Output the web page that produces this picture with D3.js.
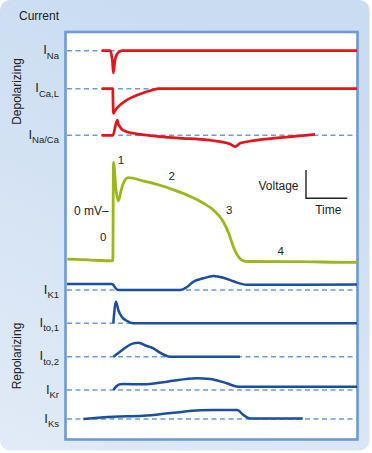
<!DOCTYPE html>
<html>
<head>
<meta charset="utf-8">
<script src="https://cdn.jsdelivr.net/npm/d3@7"></script>
<style>
  body { margin: 0; background: #fff; }
  svg { display: block; font-family: "Liberation Sans", Arial, sans-serif; }
</style>
</head>
<body>
<svg width="372" height="453"></svg>
<script>
// time in ms, 0 = upstroke of the action potential
var timeDomain = [-110, 570];

// action potential, [ms, mV]
var apTrace = [[-109.3, -82.4], [-60, -84], [-2.5, -85.5], [-1, 82.6], [4.9, 35.3], [10.3, 16.6],
  [16, 32], [22, 46.8], [33.8, 56.3], [68.9, 50.7], [108.1, 43.4], [143.3, 34.8], [178.4, 24.6],
  [208.9, 13.1], [234.7, 0.3], [256.5, -18.8], [269.9, -39.8], [279.3, -60.2], [288.6, -74.8],
  [299.2, -84.1], [312.1, -86.7], [428.6, -87], [565.3, -88.1], [570, -88.1]];

// phase numbers, placed at [ms, mV]
var phaseLabels = [["0", -24.9, -44.4], ["1", 16.6, 86.5], ["2", 135.5, 59.7], ["3", 270.6, 1.2], ["4", 391.1, -68.3]];

// currents, [ms, relative amplitude] (outward up, inward down)
var currentNames = ["Na", "Ca,L", "Na/Ca", "K1", "to,1", "to,2", "Kr", "Ks"];
var currentKind = ["dep", "dep", "dep", "rep", "rep", "rep", "rep", "rep"];

var iNa = [[-28.6, 0], [-9.1, 0], [-5.6, -0.43], [-3.3, -1.13], [-1.4, -2.23], [2.6, -0.93],
  [7.3, -0.33], [12, -0.13], [19, 0], [570, 0]];
var iCaL = [[-28.6, 0], [-2.8, 0], [-1.4, -2.46], [2.6, -2.2], [10.3, -1.8], [30, -1.13],
  [61.2, -0.53], [92.4, -0.1], [105, 0], [570, 0]];
var iNaCa = [[-28.6, 0], [-2.8, 0], [8, 1.53], [10.3, 1.1], [14.3, 0.86], [18.3, 0.6], [30, 0.36],
  [45, 0.2], [61.2, 0.1], [108, -0.14], [160, -0.3], [201.9, -0.4], [248.8, -0.64], [272.2, -0.87],
  [284, -1.14], [295.7, -0.8], [326.9, -0.54], [397.2, -0.2], [471.5, 0.1]];
var iK1 = [[-110, 0.6], [-5.2, 0.6], [-1.4, 0.5], [3.8, 0.2], [10.3, 0], [155, 0], [170.7, 0.27],
  [186.2, 0.83], [209.6, 1.17], [233.1, 1.4], [256.5, 1.23], [280, 0.87], [311.4, 0.53],
  [436.4, 0.53], [570, 0.55]];
var iTo1 = [[-1.4, 0], [4.9, 2.16], [10.3, 1.33], [18.3, 0.66], [30, 0.26], [45.5, 0], [570, 0]];
var iTo2 = [[-1.4, 0], [14.3, 0.5], [30, 1], [45.5, 1.33], [57.2, 1.4], [76.9, 1.07], [92.4, 0.84],
  [108.1, 0.4], [131.5, 0], [295.7, 0]];
var iKr = [[-1.4, 0], [6.6, 0.4], [14.3, 0.57], [22, 0.6], [68.9, 0.57], [123.8, 0.83],
  [194.2, 1.17], [225.3, 1.1], [264.5, 0.67], [291.7, 0.33], [570, 0.33]];
var iKs = [[-71.8, 0], [-1.4, 0.23], [68.9, 0.33], [139.3, 0.63], [201.9, 0.87], [233.1, 0.9],
  [289.4, 0.9], [303.4, 0.4], [319.1, 0.05], [442.7, 0.05]];

var currentTraces = [iNa, iCaL, iNaCa, iK1, iTo1, iTo2, iKr, iKs];

// layout
var rowBase = [50.7, 88.7, 135.3, 290, 323.3, 356.7, 390, 419];
var colors = { dep: "#e3141c", rep: "#1c4e9e", ap: "#9cb71b", dash: "#6f9ad6" };

var svg = d3.select("svg");

var grad = svg.append("defs").append("linearGradient")
  .attr("id", "bg").attr("x1", 0.4).attr("y1", 0).attr("x2", 0).attr("y2", 1);
grad.append("stop").attr("offset", 0).attr("stop-color", "#c9dcf1");
grad.append("stop").attr("offset", 1).attr("stop-color", "#e2ebf7");

svg.append("rect").attr("x", 0).attr("y", 0).attr("width", 369.5).attr("height", 450.5)
  .attr("rx", 10).attr("fill", "url(#bg)");

svg.append("rect").attr("x", 65.5).attr("y", 32).attr("width", 292).attr("height", 407.5)
  .attr("fill", "#fff").attr("stroke", "#6f99d6").attr("stroke-width", 2.6);

var x = d3.scaleLinear().domain(timeDomain).range([67, 357]);
var v = d3.scaleLinear().domain([-85, 0]).range([260.5, 210.7]);
var amp = d3.scaleLinear().domain([0, 1]).range([0, -10]);

// dashed zero lines
svg.selectAll("line.zero")
  .data(rowBase)
  .enter()
  .append("line")
  .attr("class", "zero")
  .attr("x1", 67).attr("x2", 357)
  .attr("y1", function (d) { return d }).attr("y2", function (d) { return d })
  .attr("stroke", colors.dash).attr("stroke-width", 1.4).attr("stroke-dasharray", "5,3.5");

// current traces
svg.selectAll("path.current")
  .data(currentTraces)
  .enter()
  .append("path")
  .attr("class", "current")
  .attr("fill", "none")
  .attr("stroke", function (d, i) { return colors[currentKind[i]] })
  .attr("stroke-width", function (d, i) { return currentKind[i] == "dep" ? 2.7 : 2.5 })
  .attr("stroke-linejoin", "round")
  .attr("d", function (d, i) {
    return d3.line()
      .x(function (p) { return x(p[0]) })
      .y(function (p) { return rowBase[i] + amp(p[1]) })
      .curve(d3.curveMonotoneX)(d);
  });

// current labels
var lab = svg.selectAll("text.ilab")
  .data(currentNames)
  .enter()
  .append("text")
  .attr("class", "ilab")
  .attr("x", 59)
  .attr("y", function (d, i) { return rowBase[i] + 3.5 })
  .attr("text-anchor", "end")
  .attr("fill", "#222");
lab.append("tspan").attr("font-size", 13).text("I");
lab.append("tspan").attr("font-size", 9.5).attr("dy", 4.4).text(function (d) { return d });

// action potential
svg.append("path")
  .datum(apTrace)
  .attr("fill", "none")
  .attr("stroke", colors.ap)
  .attr("stroke-width", 2.8)
  .attr("stroke-linejoin", "round")
  .attr("d", d3.line()
    .x(function (p) { return x(p[0]) })
    .y(function (p) { return v(p[1]) })
    .curve(d3.curveMonotoneX));

svg.selectAll("text.phase")
  .data(phaseLabels)
  .enter()
  .append("text")
  .attr("class", "phase")
  .attr("x", function (d) { return x(d[1]) })
  .attr("y", function (d) { return v(d[2]) + 4 })
  .attr("text-anchor", "middle")
  .attr("font-size", 11.5)
  .attr("fill", "#222")
  .text(function (d) { return d[0] });

svg.append("text")
  .attr("x", x(-12)).attr("y", v(0) + 3.8)
  .attr("text-anchor", "end").attr("font-size", 12).attr("fill", "#222")
  .text("0 mV\u2013");

// scale bar
svg.append("path").attr("d", "M306,170V198.3H347.3")
  .attr("fill", "none").attr("stroke", "#222").attr("stroke-width", 1.4);
svg.append("text").attr("x", 298.5).attr("y", 189.5).attr("text-anchor", "end")
  .attr("font-size", 12).attr("fill", "#222").text("Voltage");
svg.append("text").attr("x", 328.3).attr("y", 214).attr("text-anchor", "middle")
  .attr("font-size", 12).attr("fill", "#222").text("Time");

// titles
svg.append("text").attr("x", 19).attr("y", 20).attr("font-size", 12).attr("fill", "#222").text("Current");
svg.append("text").attr("transform", "translate(20.5,91.5) rotate(-90)").attr("text-anchor", "middle")
  .attr("font-size", 12).attr("fill", "#222").text("Depolarizing");
svg.append("text").attr("transform", "translate(20.5,356) rotate(-90)").attr("text-anchor", "middle")
  .attr("font-size", 12).attr("fill", "#222").text("Repolarizing");
</script>
</body>
</html>
